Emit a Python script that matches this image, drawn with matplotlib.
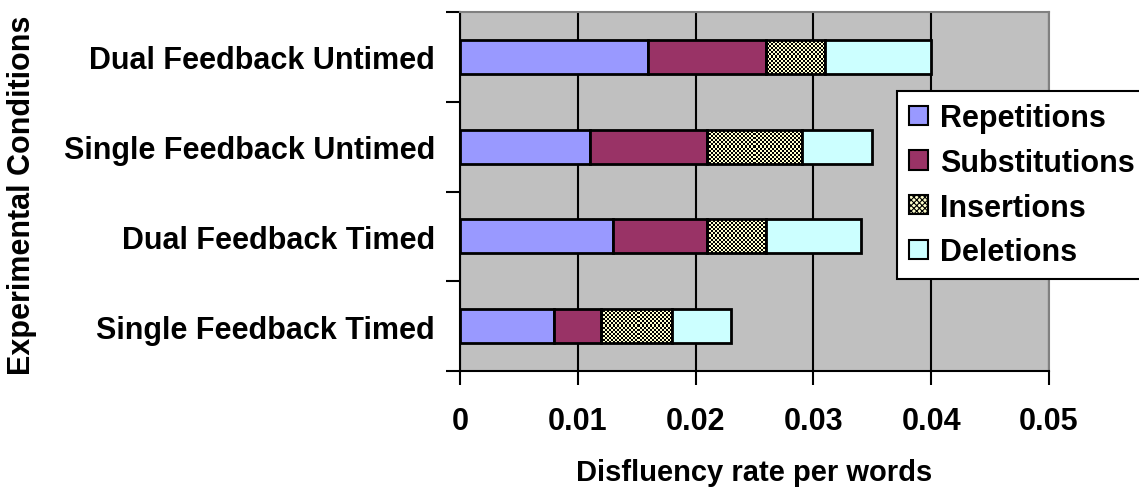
import matplotlib
matplotlib.use("Agg")
import matplotlib.pyplot as plt
from matplotlib.patches import Patch
from matplotlib.colors import ListedColormap
import numpy as np

plt.rcParams['font.family'] = ['Liberation Sans', 'DejaVu Sans']
plt.rcParams['hatch.linewidth'] = 0.8

categories = ["Single Feedback Timed", "Dual Feedback Timed",
              "Single Feedback Untimed", "Dual Feedback Untimed"]
series = ["Repetitions", "Substitutions", "Insertions", "Deletions"]
repetitions = [0.008, 0.013, 0.011, 0.016]
substitutions = [0.004, 0.008, 0.010, 0.010]
insertions = [0.006, 0.005, 0.008, 0.005]
deletions = [0.005, 0.008, 0.006, 0.009]
x_ticks = [0, 0.01, 0.02, 0.03, 0.04, 0.05]
x_ticklabels = ["0", "0.01", "0.02", "0.03", "0.04", "0.05"]

colors = ["#9999FF", "#993366", "#FFFFCC", "#CCFFFF"]
FS = 22

fig = plt.figure(figsize=(11.39, 4.89), dpi=100)
ax = fig.add_axes([460/1139, 1-372/489, 589/1139, 359/489])
ax.set_facecolor("#C0C0C0")
ax.set_xlim(0, 0.05)
ax.set_ylim(-0.5, len(categories) - 0.5)

# fine checkerboard texture for the Insertions fill
ny, nx = 180, 295
checker = (np.add.outer(np.arange(ny), np.arange(nx)) % 2)
cmap = ListedColormap(["#000000", "#FFFFCC"])

y = np.arange(len(categories))
left = np.zeros(len(categories))
handles = []
for i, (vals, name, c) in enumerate(zip([repetitions, substitutions, insertions, deletions],
                                        series, colors)):
    if name == "Insertions":
        b = ax.barh(y, vals, left=left, height=0.38, facecolor="none",
                    edgecolor="black", linewidth=2, zorder=3)
        for p in b.patches:
            im = ax.imshow(checker, cmap=cmap, extent=(0, 0.05, -0.5, 3.5),
                           aspect="auto", interpolation="nearest", zorder=2.9)
            im.set_clip_path(p)
        handles.append(Patch(facecolor=c, edgecolor="black", hatch="xxxxxx",
                             linewidth=1.5))
    else:
        b = ax.barh(y, vals, left=left, height=0.38, color=c, edgecolor="black",
                    linewidth=2, zorder=3)
        handles.append(Patch(facecolor=c, edgecolor="black", linewidth=1.5))
    left = left + np.array(vals)

ax.set_xlim(0, 0.05)
ax.set_ylim(-0.5, len(categories) - 0.5)
ax.set_xticks(x_ticks)
ax.set_xticklabels(x_ticklabels, fontsize=FS, fontweight="bold")
ax.set_yticks(y)
ax.set_yticklabels(categories, fontsize=FS, fontweight="bold")
ax.set_yticks(np.arange(-0.5, len(categories), 1), minor=True)
ax.tick_params(axis="y", which="major", length=0, pad=18)
ax.tick_params(axis="y", which="minor", length=10, width=1.5, direction="out")
ax.tick_params(axis="x", which="major", length=10, width=1.5, direction="out", pad=15)

ax.grid(axis="x", color="black", linewidth=1.5, zorder=1)
ax.set_axisbelow(True)
for s in ["left", "bottom"]:
    ax.spines[s].set_color("black")
    ax.spines[s].set_linewidth(1.5)
for s in ["top", "right"]:
    ax.spines[s].set_color("#808080")
    ax.spines[s].set_linewidth(1.5)

ax.set_xlabel("Disfluency rate per words", fontsize=21, fontweight="bold", labelpad=16)
fig.text(22/1139, 1-195/489, "Experimental Conditions", rotation=90, fontsize=FS,
         fontweight="bold", ha="center", va="center")

leg = fig.legend(handles=handles, labels=series, loc="upper left",
                 bbox_to_anchor=(897/1139, 1-92/489),
                 prop={"weight": "bold", "size": FS}, frameon=True, fancybox=False,
                 framealpha=1, handlelength=0.6, handleheight=0.6, handletextpad=0.4,
                 labelspacing=0.48, borderpad=0.4, borderaxespad=0)
leg.get_frame().set_edgecolor("black")
leg.get_frame().set_linewidth(1.5)

fig.savefig("out.png", dpi=100)
